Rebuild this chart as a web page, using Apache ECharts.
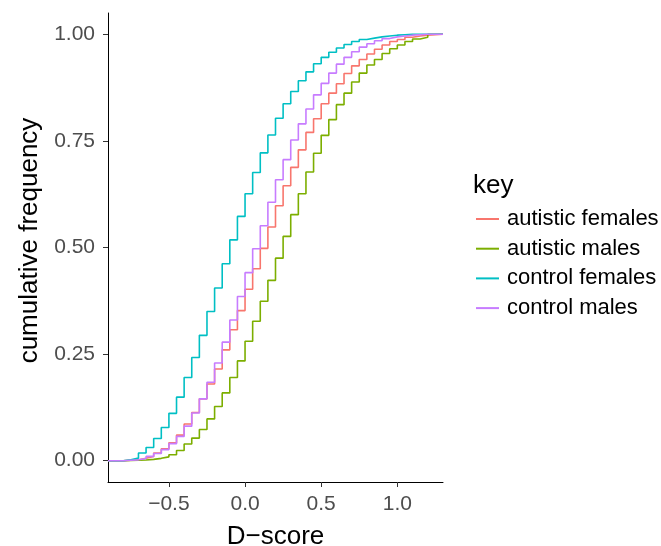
<!DOCTYPE html>
<html>
<head>
<meta charset="utf-8">
<script src="https://cdn.jsdelivr.net/npm/echarts@6/dist/echarts.min.js"></script>
<style>
html,body{margin:0;padding:0;background:#fff;}
#chart{width:661px;height:546px;}
</style>
</head>
<body>
<div id="chart"></div>
<script>
// D-score values where the ECDF steps
var dScores = [-0.8,-0.75,-0.7,-0.65,-0.6,-0.55,-0.5,-0.45,-0.4,-0.35,-0.3,-0.25,-0.2,-0.15,-0.1,-0.05,0,0.05,0.1,0.15,0.2,0.25,0.3,0.35,0.4,0.45,0.5,0.55,0.6,0.65,0.7,0.75,0.8,0.85,0.9,0.95,1.0,1.05,1.1,1.15,1.2];

var autisticFemales = [0.001,0.002,0.0055,0.010,0.018,0.028,0.042,0.060,0.086,0.113,0.145,0.180,0.215,0.260,0.307,0.352,0.402,0.450,0.498,0.548,0.598,0.645,0.688,0.729,0.770,0.802,0.837,0.862,0.884,0.908,0.926,0.941,0.954,0.965,0.975,0.983,0.988,0.993,0.996,0.998,1.0];
var autisticMales = [0.0005,0.001,0.0015,0.003,0.0055,0.009,0.014,0.024,0.039,0.053,0.073,0.098,0.127,0.159,0.195,0.234,0.280,0.327,0.374,0.423,0.475,0.526,0.577,0.626,0.677,0.721,0.763,0.800,0.835,0.862,0.888,0.909,0.928,0.941,0.955,0.966,0.975,0.983,0.989,0.993,1.0];
var controlFemales = [0.002,0.006,0.018,0.031,0.052,0.078,0.111,0.149,0.195,0.242,0.294,0.350,0.405,0.462,0.518,0.573,0.626,0.676,0.722,0.764,0.803,0.837,0.866,0.891,0.912,0.931,0.946,0.958,0.968,0.976,0.983,0.988,0.991,0.994,0.996,0.998,0.999,1.0,1.0,1.0,1.0];
var controlMales = [0.001,0.002,0.005,0.010,0.017,0.026,0.040,0.057,0.081,0.112,0.145,0.184,0.229,0.278,0.330,0.385,0.441,0.497,0.551,0.606,0.659,0.706,0.752,0.790,0.825,0.858,0.885,0.909,0.930,0.946,0.959,0.970,0.978,0.985,0.990,0.994,0.996,0.998,0.999,1.0,1.0];

var seriesNames = ['autistic females','autistic males','control females','control males'];
var seriesColors = ['#F8766D','#7CAE00','#00BFC4','#C77CFF'];
var xTicks = [-0.5, 0, 0.5, 1.0];
var yTicks = [0, 0.25, 0.5, 0.75, 1.0];
var xMin = -0.9, xMax = 1.3, yMin = -0.05, yMax = 1.05;

function ecdf(vals){
  // padded like stat_ecdf(pad = TRUE): 0 at the left edge, 1 at the right edge
  var pts = [[xMin, 0]];
  for (var i = 0; i < dScores.length; i++) pts.push([dScores[i], vals[i]]);
  pts.push([xMax, 1]);
  return pts;
}
var allVals = [autisticFemales, autisticMales, controlFemales, controlMales];

var chart = echarts.init(document.getElementById('chart'), null, {renderer:'canvas'});
var font = 'Liberation Sans, Arial, Helvetica, sans-serif';
chart.setOption({
  backgroundColor:'#ffffff',
  animation:false,
  textStyle:{fontFamily:font},
  grid:{left:108, right:218, top:13, bottom:64, containLabel:false, outerBoundsMode:'none'},
  xAxis:{
    type:'value', min:xMin, max:xMax,
    name:'D\u2212score', nameLocation:'middle', nameGap:42,
    nameTextStyle:{fontSize:26, color:'#000', fontFamily:font},
    axisLine:{onZero:false, lineStyle:{color:'#000', width:1}},
    axisTick:{show:true, length:5, lineStyle:{color:'#333'}, customValues:xTicks},
    axisLabel:{fontSize:21, color:'#4D4D4D', margin:12, fontFamily:font, customValues:xTicks,
      formatter:function(v){return v.toFixed(1).replace('-', '\u2212');}},
    splitLine:{show:false}
  },
  yAxis:{
    type:'value', min:yMin, max:yMax,
    name:'cumulative frequency', nameLocation:'middle', nameGap:64,
    nameTextStyle:{fontSize:26, color:'#000', fontFamily:font, padding:[0,0,0,14]},
    axisLine:{onZero:false, lineStyle:{color:'#000', width:1}},
    axisTick:{show:true, length:5, lineStyle:{color:'#333'}, customValues:yTicks},
    axisLabel:{fontSize:21, color:'#4D4D4D', margin:13, fontFamily:font, customValues:yTicks,
      formatter:function(v){return v.toFixed(2);}},
    splitLine:{show:false}
  },
  title:{text:'key', left:468, top:168, textStyle:{fontSize:26, fontWeight:'normal', color:'#000', fontFamily:font}},
  legend:{
    orient:'vertical', left:471, top:203, itemWidth:23, itemHeight:2, itemGap:7.7,
    icon:'rect',
    textStyle:{fontSize:22, color:'#000', fontFamily:font, lineHeight:22, padding:[0,0,0,3]},
    data:seriesNames
  },
  series: seriesNames.map(function(n, i){
    return {
      name:n, type:'line', step:'end', symbol:'none', showSymbol:false,
      data: ecdf(allVals[i]),
      itemStyle:{color:seriesColors[i]},
      lineStyle:{color:seriesColors[i], width:1.6},
      z: 2 + i
    };
  })
});
</script>
</body>
</html>
